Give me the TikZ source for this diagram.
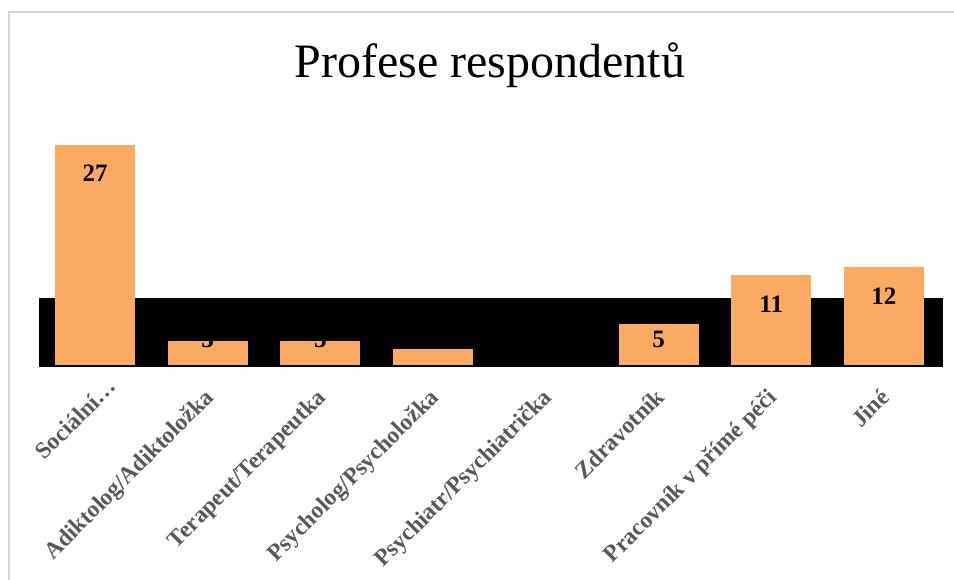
\documentclass[tikz,border=0pt]{standalone}
\usepackage{fontspec}
\setmainfont{Liberation Serif}
\definecolor{barfill}{HTML}{FBAA62}
\definecolor{chartgray}{HTML}{D9D9D9}
\definecolor{framegray}{HTML}{D6D6D6}
\definecolor{catgray}{HTML}{595959}
\begin{document}
\begin{tikzpicture}[x=1pt,y=-1pt,
  bar/.style={fill=barfill},
  val/.style={font=\bfseries\fontsize{25}{25}\selectfont, anchor=base, inner sep=0pt},
  cat/.style={font=\bfseries\fontsize{23.5}{23.5}\selectfont, text=catgray, rotate=45,
              anchor=north east, inner sep=0pt},
  titletext/.style={font=\fontsize{48}{48}\selectfont, anchor=base, inner sep=0pt}]
\useasboundingbox (0,0) rectangle (954,580);
\fill[white] (0,0) rectangle (954,580);
% chart area: light-grey band fading to white at top and bottom
\shade[top color=white, middle color=chartgray, bottom color=white] (9,12) rectangle (960,580);
\draw[framegray, line width=2pt] (9,600) -- (9,12) -- (970,12);
% title
\node[titletext] (title) at (490,78) {Profese respondentů};
% black plot band
\fill[black] (39,298) rectangle (943,367);
% bars: index, value, printed label
\foreach \i/\v/\t in {0/27/27, 1/3/3, 2/3/3, 3/2/, 4/0/, 5/5/5, 6/11/11, 7/12/12}{
  \pgfmathsetmacro{\cx}{95+112.7*\i}
  \pgfmathsetmacro{\top}{365-8.15*\v}
  \pgfmathsetmacro{\lb}{min(\top+37,348)}
  \ifnum\v>0
    \fill[bar] (\cx-40,\top) rectangle (\cx+40,365);
  \fi
  \node[val] (v\i) at (\cx,\lb) {\t};
}
% category labels
\node[cat] (c0) at (106,376) {Sociální…};
\node[cat] (c1) at (203,387) {Adiktolog/Adiktoložka};
\node[cat] (c2) at (315.5,387) {Terapeut/Terapeutka};
\node[cat] (c3) at (428,387) {Psycholog/Psycholožka};
\node[cat] (c4) at (541,387) {Psychiatr/Psychiatrička};
\node[cat] (c5) at (654,387) {Zdravotník};
\node[cat] (c6) at (766,387) {Pracovník v přímé péči};
\node[cat] (c7) at (879,387) {Jiné};
\end{tikzpicture}
\end{document}
